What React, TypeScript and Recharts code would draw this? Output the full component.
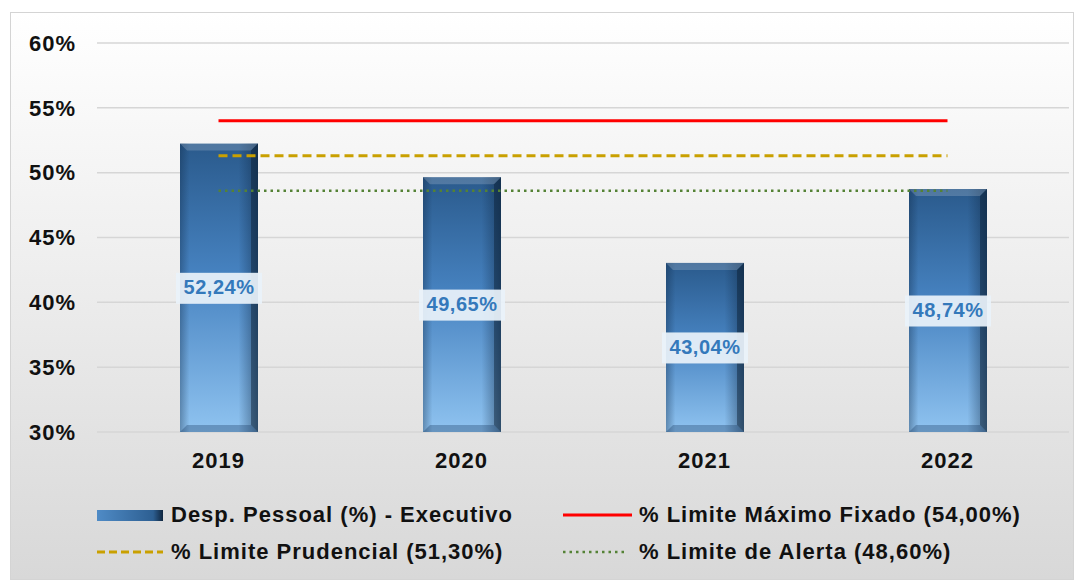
import React from "react";
import {
  ComposedChart,
  Bar,
  Line,
  XAxis,
  YAxis,
  CartesianGrid,
  LabelList,
} from "recharts";

const years = ["2019", "2020", "2021", "2022"];
const despPessoal = [52.24, 49.65, 43.04, 48.74];
const limiteMaximo = [54.0, 54.0, 54.0, 54.0];
const limitePrudencial = [51.3, 51.3, 51.3, 51.3];
const limiteAlerta = [48.6, 48.6, 48.6, 48.6];
const yTicks = [30, 35, 40, 45, 50, 55, 60];

const data = years.map((year, i) => ({
  year,
  desp: despPessoal[i],
  maximo: limiteMaximo[i],
  prudencial: limitePrudencial[i],
  alerta: limiteAlerta[i],
}));

const FONT = "'Liberation Sans', Arial, sans-serif";
const fmt = (v: number) => v.toFixed(2).replace(".", ",") + "%";

const BevelBar = (props: any) => {
  const { x, y, width, height } = props;
  if (!height || height <= 0) return null;
  const b = 7;
  return (
    <g>
      <rect x={x} y={y} width={width} height={height} fill="url(#barV)" />
      <rect x={x} y={y} width={width} height={height} fill="url(#barH)" />
      <polygon
        points={`${x},${y} ${x + width},${y} ${x + width - b},${y + b} ${x + b},${y + b}`}
        fill="#ffffff"
        fillOpacity={0.18}
      />
      <polygon
        points={`${x},${y + height} ${x + width},${y + height} ${x + width - b},${y + height - b} ${x + b},${y + height - b}`}
        fill="#1c3f66"
        fillOpacity={0.35}
      />
      <polygon
        points={`${x + width},${y} ${x + width},${y + height} ${x + width - b},${y + height - b} ${x + width - b},${y + b}`}
        fill="#0c1e33"
        fillOpacity={0.45}
      />
    </g>
  );
};

const ValueLabel = (props: any) => {
  const { x, y, width, height, value } = props;
  const cx = x + width / 2;
  const cy = y + height / 2;
  return (
    <g>
      <rect x={cx - 43} y={cy - 15} width={86} height={31} fill="#eaf2fa" fillOpacity={0.93} />
      <text
        x={cx}
        y={cy + 1}
        textAnchor="middle"
        dominantBaseline="middle"
        fill="#3479bb"
        fontFamily={FONT}
        fontWeight="bold"
        fontSize={20}
        letterSpacing={0.5}
      >
        {fmt(value)}
      </text>
    </g>
  );
};

const legendText: React.CSSProperties = {
  position: "absolute",
  fontFamily: FONT,
  fontWeight: "bold",
  fontSize: 22,
  letterSpacing: 1,
  color: "#111",
  lineHeight: "24px",
  whiteSpace: "nowrap",
};

const tickStyle = {
  fill: "#111",
  fontFamily: FONT,
  fontWeight: "bold",
  fontSize: 22,
  letterSpacing: 1,
};

export default function App() {
  return (
    <div style={{ position: "absolute", left: 0, top: 0, width: 1083, height: 581 }}>
      <div
        style={{
          position: "absolute",
          left: 10,
          top: 12,
          width: 1062,
          height: 566,
          border: "1px solid #d4d4d4",
          background: "linear-gradient(#ffffff, #eeeeee 45%, #d8d8d8)",
        }}
      />
      <div style={{ position: "absolute", left: 0, top: 0 }}>
        <ComposedChart
          width={1083}
          height={581}
          data={data}
          margin={{ top: 43, right: 14, bottom: 109, left: 0 }}
        >
          <defs>
            <linearGradient id="barV" x1="0" y1="0" x2="0" y2="1">
              <stop offset="0%" stopColor="#2a5a8c" />
              <stop offset="45%" stopColor="#4682c0" />
              <stop offset="100%" stopColor="#8fc3f0" />
            </linearGradient>
            <linearGradient id="barH" x1="0" y1="0" x2="1" y2="0">
              <stop offset="0%" stopColor="#0d2540" stopOpacity={0.35} />
              <stop offset="12%" stopColor="#0d2540" stopOpacity={0} />
              <stop offset="75%" stopColor="#0d2540" stopOpacity={0} />
              <stop offset="100%" stopColor="#0d2540" stopOpacity={0.5} />
            </linearGradient>
          </defs>
          <CartesianGrid vertical={false} stroke="#d6d6d6" strokeWidth={1.5} />
          <XAxis
            dataKey="year"
            height={40}
            axisLine={false}
            tickLine={false}
            tickSize={0}
            tickMargin={20}
            tick={tickStyle}
          />
          <YAxis
            width={97}
            domain={[30, 60]}
            ticks={yTicks}
            interval={0}
            axisLine={false}
            tickLine={false}
            tickSize={0}
            tickMargin={21}
            tickFormatter={(v: number) => v + "%"}
            tick={tickStyle}
          />
          <Bar dataKey="desp" barSize={78} shape={BevelBar} isAnimationActive={false}>
            <LabelList dataKey="desp" content={ValueLabel} />
          </Bar>
          <Line
            dataKey="maximo"
            stroke="#ff0000"
            strokeWidth={3}
            dot={false}
            activeDot={false}
            isAnimationActive={false}
          />
          <Line
            dataKey="prudencial"
            stroke="#c9a000"
            strokeWidth={3}
            strokeDasharray="9 5"
            dot={false}
            activeDot={false}
            isAnimationActive={false}
          />
          <Line
            dataKey="alerta"
            stroke="#548235"
            strokeWidth={2.5}
            strokeDasharray="2.5 4"
            dot={false}
            activeDot={false}
            isAnimationActive={false}
          />
        </ComposedChart>
      </div>

      {/* legend */}
      <svg style={{ position: "absolute", left: 0, top: 0 }} width={1083} height={581}>
        <defs>
          <linearGradient id="legH" x1="0" y1="0" x2="1" y2="0">
            <stop offset="0%" stopColor="#4f8bc6" />
            <stop offset="85%" stopColor="#2d5f92" />
            <stop offset="100%" stopColor="#10263f" />
          </linearGradient>
        </defs>
        <rect x={97} y={510} width={66} height={11} fill="url(#legH)" />
        <line x1={563} y1={515} x2={632} y2={515} stroke="#ff0000" strokeWidth={3} />
        <line x1={97} y1={552} x2={163} y2={552} stroke="#c9a000" strokeWidth={3} strokeDasharray="8 4" />
        <line x1={563} y1={552} x2={627} y2={552} stroke="#548235" strokeWidth={2.5} strokeDasharray="2.5 4" />
      </svg>
      <div style={{ ...legendText, left: 171, top: 503 }}>Desp. Pessoal (%) - Executivo</div>
      <div style={{ ...legendText, left: 639, top: 503 }}>% Limite Máximo Fixado (54,00%)</div>
      <div style={{ ...legendText, left: 171, top: 540 }}>% Limite Prudencial (51,30%)</div>
      <div style={{ ...legendText, left: 639, top: 540 }}>% Limite de Alerta (48,60%)</div>
    </div>
  );
}
